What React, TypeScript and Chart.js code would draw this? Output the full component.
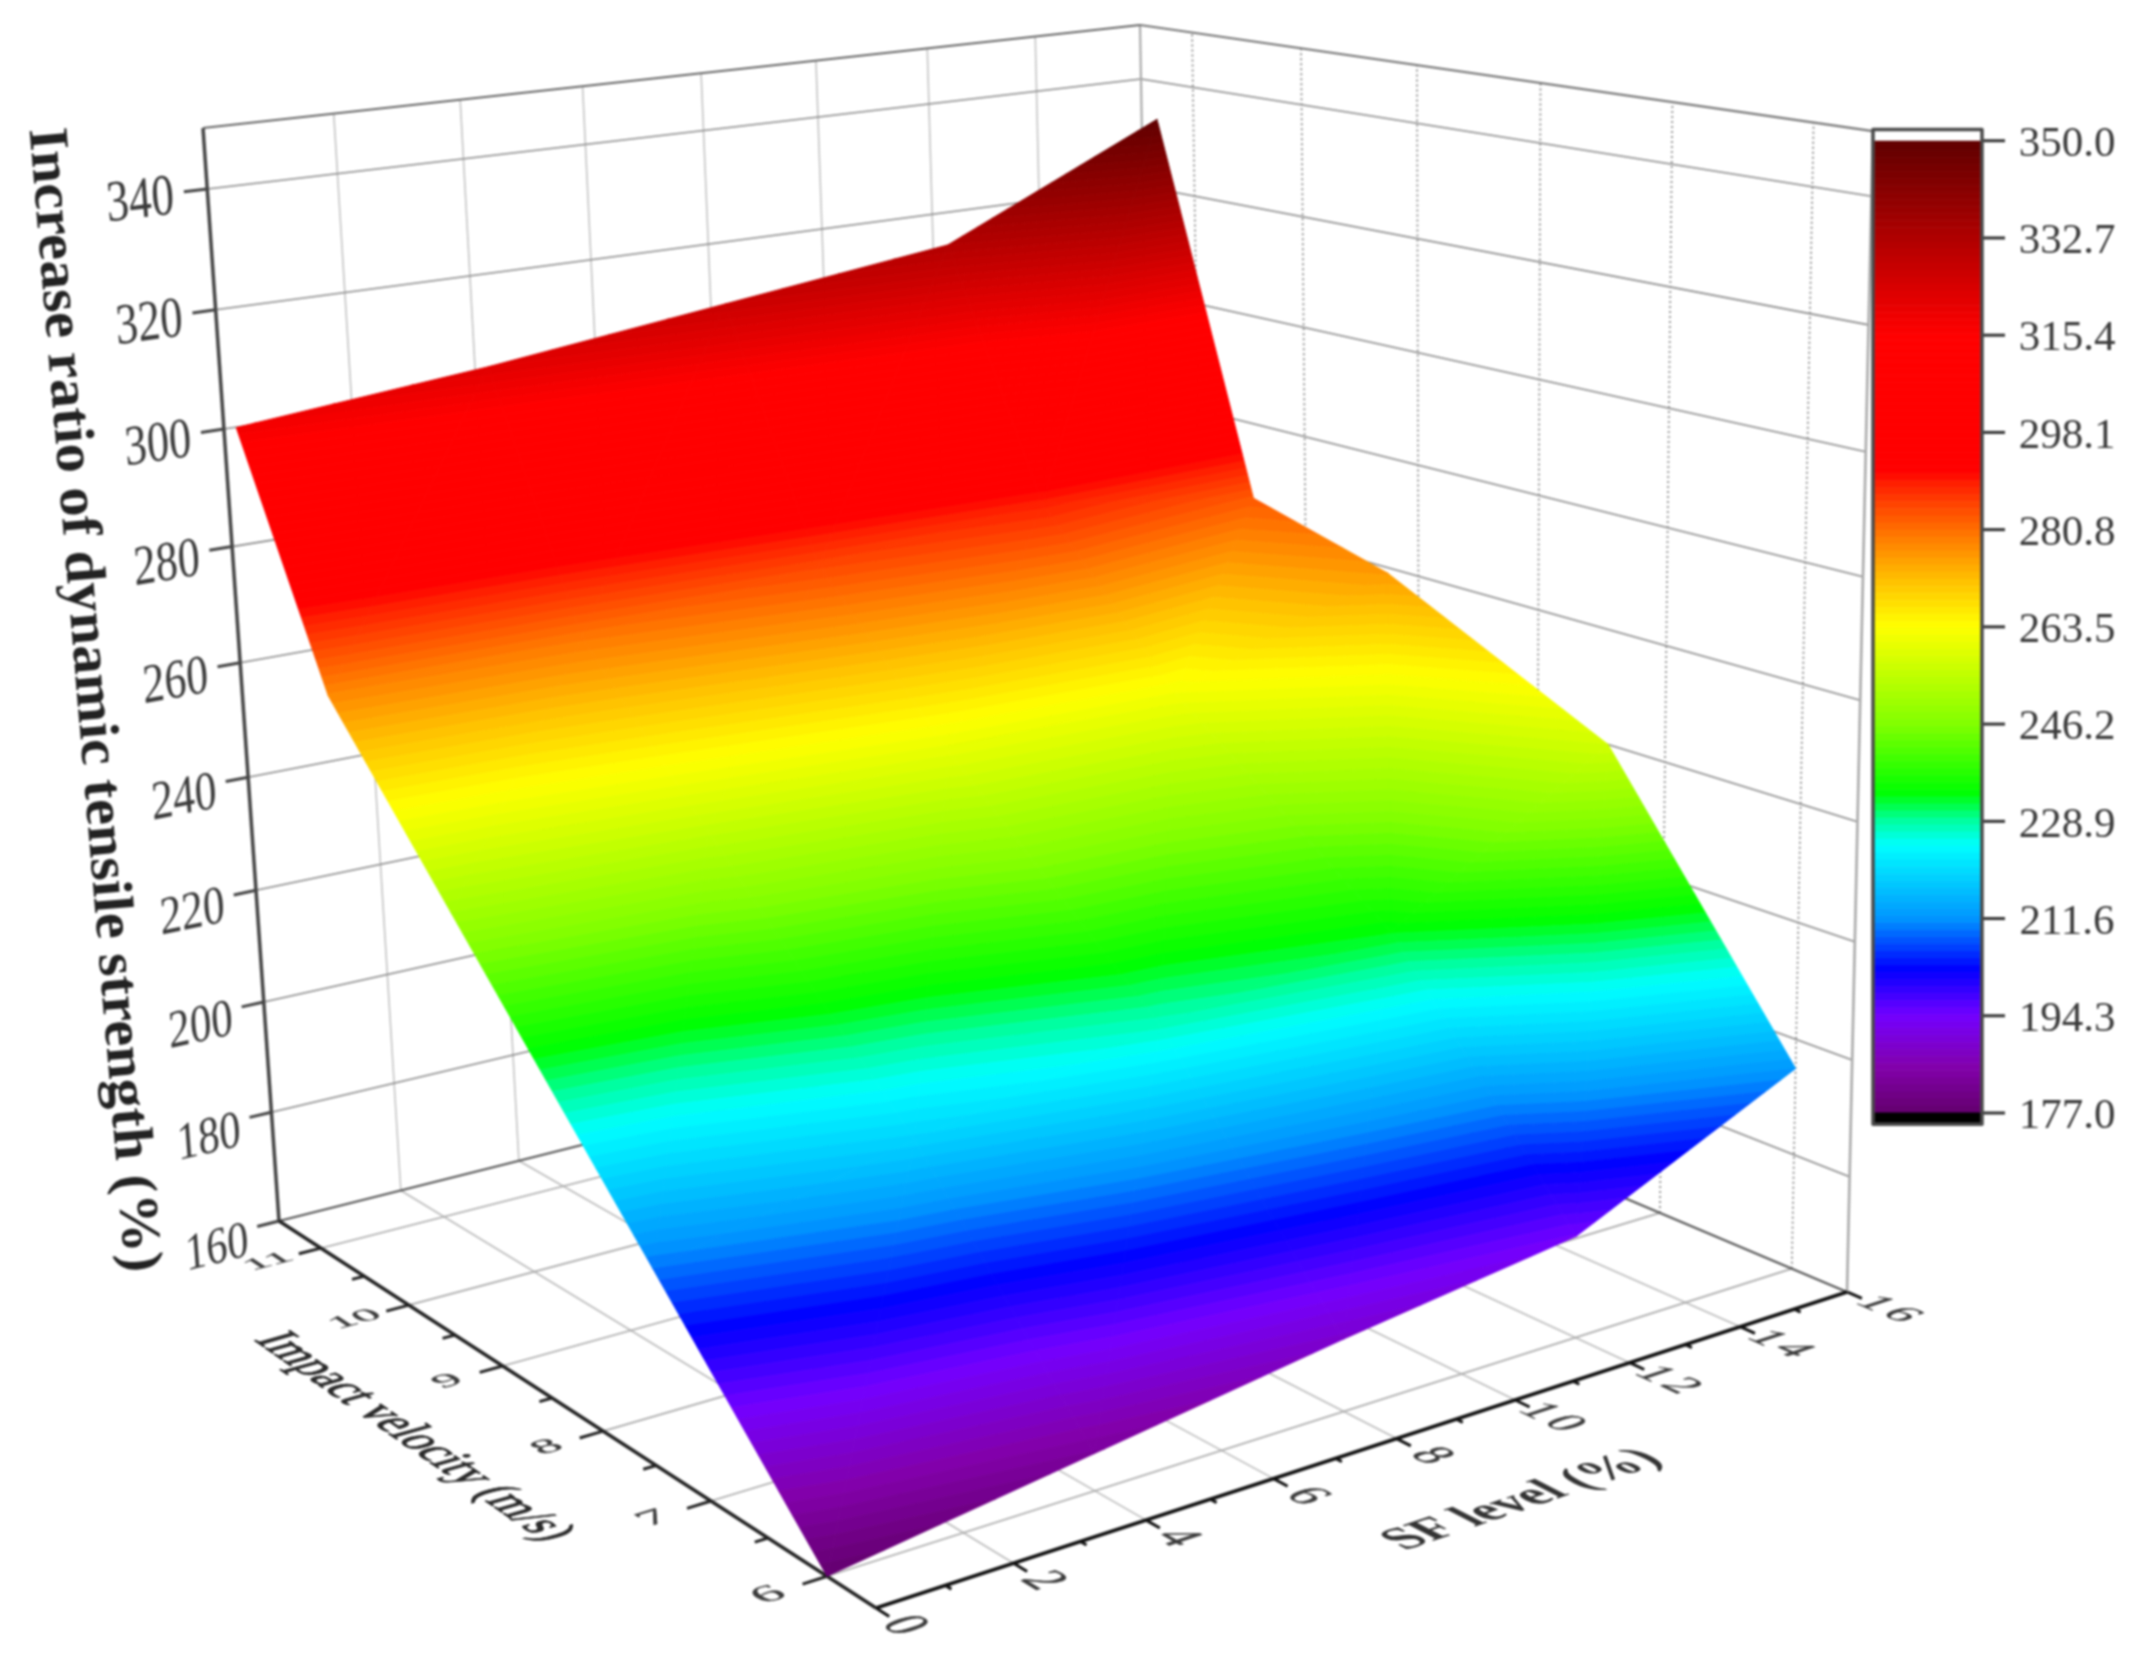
import React, { useEffect, useRef } from "react";
import { Chart, registerables } from "chart.js";

Chart.register(...registerables);

// ---------- data ----------
const sfLevels = [0, 4, 8, 12, 16];
const impactVelocities = [6, 7.44, 9.27, 10.48, 11.35];
// one row per SF level, one column per impact velocity
const ratioAtSF0 = [177, 209.5, 250.7, 278, 318];
const ratioAtSF4 = [183, 219, 255, 280, 322];
const ratioAtSF8 = [189, 227.5, 260, 285, 327];
const ratioAtSF12 = [194.3, 233.5, 262, 289, 332];
const ratioAtSF16 = [212, 257, 276, 283, 350];
const ratioTable = [ratioAtSF0, ratioAtSF4, ratioAtSF8, ratioAtSF12, ratioAtSF16];

const zTicks = [160, 180, 200, 220, 240, 260, 280, 300, 320, 340];
const vTicks = [6, 7, 8, 9, 10, 11];
const vMinorTicks = [6.5, 7.5, 8.5, 9.5, 10.5];
const sfTicks = [0, 2, 4, 6, 8, 10, 12, 14, 16];
const sfMinorTicks = [1, 3, 5, 7, 9, 11, 13, 15];
const colorbarTicks = [350.0, 332.7, 315.4, 298.1, 280.8, 263.5, 246.2, 228.9, 211.6, 194.3, 177.0];

const zTitle = "Increase ratio of dynamic tensile strength (%)";
const vTitle = "Impact velocity (m/s)";
const sfTitle = "SF level (%)";

// colour map of the colour bar: [value, r, g, b]
const colorStops: number[][] = [
  [177, 100, 0, 110], [185, 130, 0, 170], [194.3, 115, 0, 255], [202.5, 0, 0, 255],
  [211.6, 0, 150, 255], [224.6, 0, 255, 255], [228.9, 0, 255, 160], [234, 0, 255, 0],
  [246.2, 130, 255, 0], [263.5, 255, 255, 0], [272, 255, 190, 0], [280.8, 255, 110, 0],
  [289, 255, 30, 0], [291, 255, 0, 0], [315.4, 255, 0, 0], [332.7, 175, 0, 0], [350, 95, 0, 0],
];

// ---------- axis ranges and camera ----------
const SF_MAX = 16;
const V_MIN = 5.6;
const V_SPAN = 5.9;
const Z_MIN = 160;
const Z_SPAN = 190;
const HEIGHT_SHIFT = 17; // the colour scale sits this far above the drawn z axis

const W = 2155;
const H = 1658;
const BAR_L = 1873;
const BAR_R = 1982;
const BAR_TICK_R = 2005;
const BAR_LABEL_X = 2068;

type P = { x: number; y: number };
function cam(s: number, t: number, w: number): P {
  const d = 1 + 0.1556 * s + 0.2275 * t - 0.0738 * w;
  return {
    x: (876 + 1258.4 * s - 533.5 * t - 108.3 * w) / d,
    y: (1608 - 115 * s - 109.2 * t - 1351.1 * w) / d,
  };
}
const sOf = (sf: number) => sf / SF_MAX;
const tOf = (v: number) => (v - V_MIN) / V_SPAN;
const wOf = (z: number) => (z - Z_MIN) / Z_SPAN;
const pt3 = (sf: number, v: number, z: number) => cam(sOf(sf), tOf(v), wOf(z));

function colorAt(val: number): string {
  const c = colorStops;
  if (val <= c[0][0]) return `rgb(${c[0][1]},${c[0][2]},${c[0][3]})`;
  for (let i = 1; i < c.length; i++) {
    if (val <= c[i][0]) {
      const f = (val - c[i - 1][0]) / (c[i][0] - c[i - 1][0]);
      const m = (k: number) => Math.round(c[i - 1][k] + (c[i][k] - c[i - 1][k]) * f);
      return `rgb(${m(1)},${m(2)},${m(3)})`;
    }
  }
  const l = c[c.length - 1];
  return `rgb(${l[1]},${l[2]},${l[3]})`;
}

type V3 = { sf: number; v: number; val: number };
function clipBelow(poly: V3[], limit: number, keepAbove: boolean): V3[] {
  const out: V3[] = [];
  for (let i = 0; i < poly.length; i++) {
    const a = poly[i];
    const b = poly[(i + 1) % poly.length];
    const ain = keepAbove ? a.val >= limit : a.val <= limit;
    const bin = keepAbove ? b.val >= limit : b.val <= limit;
    if (ain) out.push(a);
    if (ain !== bin) {
      const f = (limit - a.val) / (b.val - a.val);
      out.push({ sf: a.sf + (b.sf - a.sf) * f, v: a.v + (b.v - a.v) * f, val: limit });
    }
  }
  return out;
}

function surfaceDatasets() {
  const sets: any[] = [];
  const step = 1.25;
  const node = (i: number, j: number): V3 => ({ sf: sfLevels[i], v: impactVelocities[j], val: ratioTable[i][j] });
  for (let i = 0; i < sfLevels.length - 1; i++) {
    for (let j = 0; j < impactVelocities.length - 1; j++) {
      const a = node(i, j), b = node(i + 1, j), c = node(i + 1, j + 1), d = node(i, j + 1);
      const tris = [[a, b, c], [a, c, d]];
      for (const tri of tris) {
        const lo = Math.min(...tri.map((n) => n.val));
        const hi = Math.max(...tri.map((n) => n.val));
        for (let k = Math.floor((lo - 177) / step); 177 + k * step < hi; k++) {
          const l0 = 177 + k * step;
          const l1 = l0 + step;
          const poly = clipBelow(clipBelow(tri, l0, true), l1, false);
          if (poly.length < 3) continue;
          const pts = poly.map((n) => pt3(n.sf, n.v, n.val - HEIGHT_SHIFT));
          pts.push(pts[0]);
          const col = colorAt((l0 + l1) / 2);
          sets.push({ data: pts, fill: "shape", backgroundColor: col, borderColor: col, borderWidth: 1 });
        }
      }
    }
  }
  return sets;
}

function line(points: P[], color: string, width: number, dash?: number[]) {
  return { data: points, borderColor: color, borderWidth: width, borderDash: dash || [], fill: false, backgroundColor: color };
}

function gridDatasets() {
  const sets: any[] = [];
  const vEnd = V_MIN + V_SPAN;
  const vStart = V_MIN;
  const top = Z_MIN + Z_SPAN;
  const wallH = "#8a8a8a";
  // major axes
  sets.push(line([pt3(0, vStart, Z_MIN), pt3(0, vEnd, Z_MIN)], "#222", 3.5));
  sets.push(line([pt3(0, vStart, Z_MIN), pt3(SF_MAX, vStart, Z_MIN)], "#111", 3.5));
  sets.push(line([pt3(0, vEnd, Z_MIN), pt3(0, vEnd, top)], "#444", 3.5));
  sets.push(line([pt3(0, vEnd, Z_MIN), pt3(SF_MAX, vEnd, Z_MIN)], "#555", 2));
  sets.push(line([pt3(SF_MAX, vStart, Z_MIN), pt3(SF_MAX, vEnd, Z_MIN)], "#555", 2));
  sets.push(line([pt3(0, vEnd, top), pt3(SF_MAX, vEnd, top)], "#666", 2.2));
  sets.push(line([pt3(SF_MAX, vStart, top), pt3(SF_MAX, vEnd, top)], "#777", 2.2));
  sets.push(line([pt3(SF_MAX, vEnd, Z_MIN), pt3(SF_MAX, vEnd, top)], "#aaa", 2.2));
  sets.push(line([pt3(SF_MAX, vStart, Z_MIN), pt3(SF_MAX, vStart, top)], "#aaa", 2.6));
  for (const z of zTicks) {
    const p = cam(-0.022, 1, wOf(z));
    sets.push(line([p, pt3(0, vEnd, z)], "#444", 3));
    if (z === Z_MIN) continue;
    sets.push(line([pt3(0, vEnd, z), pt3(SF_MAX, vEnd, z)], wallH, 1.6));
    sets.push(line([pt3(SF_MAX, vEnd, z), pt3(SF_MAX, vStart, z)], wallH, 1.6));
  }
  for (const v of vTicks) {
    sets.push(line([cam(-0.022, tOf(v), 0), pt3(0, v, Z_MIN)], "#222", 3));
    sets.push(line([pt3(0, v, Z_MIN), pt3(SF_MAX, v, Z_MIN)], "#aaa", 1.6));
    sets.push(line([pt3(SF_MAX, v, Z_MIN), pt3(SF_MAX, v, top)], "#888", 1.8, [2, 3]));
  }
  for (const v of vMinorTicks) {
    sets.push(line([cam(-0.012, tOf(v), 0), pt3(0, v, Z_MIN)], "#222", 3));
  }
  for (const sf of sfTicks) {
    sets.push(line([cam(sOf(sf), -0.018, 0), pt3(sf, vStart, Z_MIN)], "#111", 3));
    if (sf === 0 || sf === SF_MAX) continue;
    sets.push(line([pt3(sf, vStart, Z_MIN), pt3(sf, vEnd, Z_MIN)], "#bbb", 1.6));
    sets.push(line([pt3(sf, vEnd, Z_MIN), pt3(sf, vEnd, top)], "#c4c4c4", 1.6));
  }
  for (const sf of sfMinorTicks) {
    sets.push(line([cam(sOf(sf), -0.008, 0), pt3(sf, vStart, Z_MIN)], "#111", 3));
  }
  return sets;
}

function colorbarDatasets() {
  const rects: any[] = [];
  const step = 1.25;
  for (let val = 177; val < 350; val += step) {
    const col = colorAt(val + step / 2);
    rects.push({
      yAxisID: "yBar",
      data: [
        { x: BAR_L, y: val }, { x: BAR_R, y: val },
        { x: BAR_R, y: val + step }, { x: BAR_L, y: val + step }, { x: BAR_L, y: val },
      ],
      fill: "shape", backgroundColor: col, borderColor: col, borderWidth: 0.8,
    });
  }
  const black = { yAxisID: "yBar", data: [{ x: BAR_L, y: 175 }, { x: BAR_R, y: 175 }, { x: BAR_R, y: 177 }, { x: BAR_L, y: 177 }, { x: BAR_L, y: 175 }], fill: "shape", backgroundColor: "#000", borderColor: "#000", borderWidth: 1 };
  const frame = { yAxisID: "yBar", data: [{ x: BAR_L, y: 175 }, { x: BAR_R, y: 175 }, { x: BAR_R, y: 352 }, { x: BAR_L, y: 352 }, { x: BAR_L, y: 175 }], fill: false, borderColor: "#4a4a4a", borderWidth: 3.5 };
  const white = { yAxisID: "yBar", data: [{ x: BAR_L, y: 350 }, { x: BAR_R, y: 350 }, { x: BAR_R, y: 352 }, { x: BAR_L, y: 352 }, { x: BAR_L, y: 350 }], fill: "shape", backgroundColor: "#fff", borderColor: "#fff", borderWidth: 0 };
  const ticks = colorbarTicks.map((val) => ({ yAxisID: "yBar", data: [{ x: BAR_R, y: val }, { x: BAR_TICK_R, y: val }], fill: false, borderColor: "#333", borderWidth: 3 }));
  return [frame, ...ticks, black, white, ...rects];
}

const SERIF = '"Liberation Serif"';

type TextOpts = { bold?: boolean; color?: string; fitLen?: number; heavy?: number; spacing?: number };
function planeText(ctx: CanvasRenderingContext2D, text: string, c: P, u: P, up: P, o: TextOpts = {}) {
  const F = 40;
  ctx.save();
  ctx.font = `${o.bold ? "bold " : ""}${F}px ${SERIF}`;
  if (o.spacing) (ctx as any).letterSpacing = `${o.spacing}px`;
  let ux = u.x, uy = u.y;
  if (o.fitLen) {
    const m = ctx.measureText(text).width;
    const ul = Math.hypot(ux, uy);
    const k = (o.fitLen / m) * F / ul;
    ux *= k; uy *= k;
  }
  ctx.transform(ux / F, uy / F, -up.x / F, -up.y / F, c.x, c.y);
  ctx.textAlign = "center";
  ctx.textBaseline = "middle";
  ctx.fillStyle = o.color || "#3a3a3a";
  ctx.fillText(text, 0, 0);
  if (o.heavy) {
    ctx.strokeStyle = o.color || "#3a3a3a";
    ctx.lineWidth = o.heavy;
    ctx.strokeText(text, 0, 0);
  }
  ctx.restore();
}

function deriv(s: number, t: number, w: number, ds: number, dt: number, dw: number): P {
  const a = cam(s + ds, t + dt, w + dw);
  const b = cam(s, t, w);
  return { x: a.x - b.x, y: a.y - b.y };
}

const textPlugin = {
  id: "texts",
  afterDatasetsDraw(chart: any) {
    const ctx: CanvasRenderingContext2D = chart.ctx;
    const yBar = chart.scales.yBar;
    ctx.save();
    ctx.font = `43px ${SERIF}`;
    ctx.fillStyle = "#3a3a3a";
    ctx.textAlign = "center";
    ctx.textBaseline = "middle";
    for (const val of colorbarTicks) {
      ctx.fillText(val.toFixed(1), BAR_LABEL_X - 1, yBar.getPixelForValue(val) + 4);
    }
    ctx.restore();

    for (const z of zTicks) {
      const w = wOf(z) - 0.004 - 0.008 * (1 - wOf(z));
      const s = -0.063;
      planeText(ctx, String(z), cam(s, 1, w), deriv(s, 1, w, 0.042, 0, 0), deriv(s, 1, w, 0, 0, 0.05));
    }
    for (const v of vTicks) {
      const t = tOf(v);
      planeText(ctx, String(v), cam(-0.052, t, 0), deriv(-0.052, t, 0, 0.046, 0, 0), deriv(-0.052, t, 0, 0, 0.04, 0), { heavy: 0.5 });
    }
    for (const sf of sfTicks) {
      const s = sOf(sf);
      const t = -0.04 - 0.012 * s;
      planeText(ctx, String(sf), cam(s, t, 0), deriv(s, t, 0, 0, -0.05, 0), deriv(s, t, 0, 0.048, 0, 0), { heavy: 0.5, spacing: 5 });
    }
    planeText(ctx, vTitle, cam(-0.129, 0.492, 0), deriv(-0.129, 0.492, 0, 0, -0.07, 0), deriv(-0.129, 0.492, 0, 0.05, 0, 0), { color: "#2a2a2a", fitLen: 355, heavy: 0.9 });
    planeText(ctx, sfTitle, cam(0.504, -0.15, 0), deriv(0.504, -0.15, 0, 0.055, 0, 0), deriv(0.504, -0.15, 0, 0, 0.056, 0), { bold: true, color: "#333", fitLen: 275 });
    planeText(ctx, zTitle, { x: 92, y: 700 }, { x: 4.2, y: 50 }, { x: 56, y: -4.7 }, { bold: true, color: "#222", fitLen: 1148 });
  },
};

export default function App() {
  const ref = useRef<HTMLCanvasElement | null>(null);
  useEffect(() => {
    const canvas = ref.current!;
    const barPxPerUnit = 5.62;
    const chart = new Chart(canvas, {
      type: "line",
      data: { datasets: [...colorbarDatasets(), ...surfaceDatasets(), ...gridDatasets()] },
      options: {
        animation: false,
        responsive: false,
        devicePixelRatio: 1,
        parsing: { xAxisKey: "x", yAxisKey: "y" },
        layout: { padding: 0 },
        events: [],
        elements: { point: { radius: 0 }, line: { tension: 0, capBezierPoints: false, borderJoinStyle: "round" } },
        plugins: { legend: { display: false }, tooltip: { enabled: false }, title: { display: false } },
        scales: {
          x: { type: "linear", display: false, min: 0, max: W },
          y: { type: "linear", display: false, min: 0, max: H, reverse: true },
          yBar: { type: "linear", display: false, min: 177 - (H - 1113) / barPxPerUnit, max: 177 + 1113 / barPxPerUnit },
        },
      } as any,
      plugins: [textPlugin],
    });
    return () => chart.destroy();
  }, []);
  return (
    <div style={{ position: "absolute", left: 0, top: 0, width: W, height: H, background: "#fff" }}>
      <canvas ref={ref} width={W} height={H} style={{ display: "block", width: W, height: H, filter: "blur(1px)" }} />
    </div>
  );
}
